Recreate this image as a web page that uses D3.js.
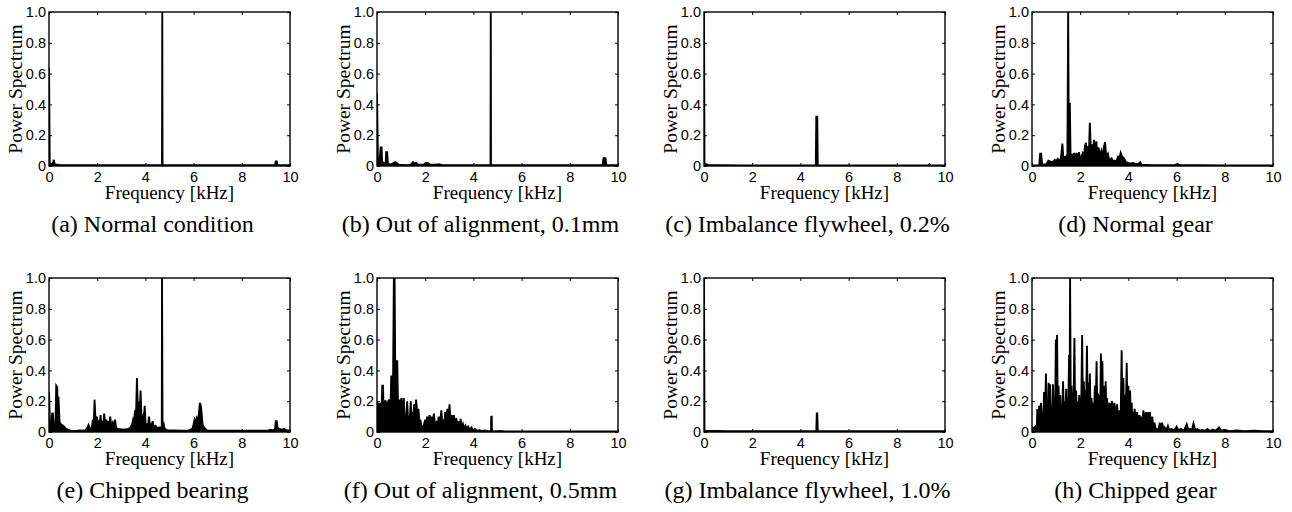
<!DOCTYPE html>
<html>
<head>
<meta charset="utf-8">
<script src="https://cdn.jsdelivr.net/npm/d3@7"></script>
<style>
  body { margin: 0; background: #fff; }
</style>
</head>
<body>
<div id="chart"></div>
<script>
// tick values shared by every panel
const freqTicks = [0, 2, 4, 6, 8, 10];
const powerTicks = [0, 0.2, 0.4, 0.6, 0.8, 1.0];

const captions = [
  '(a) Normal condition',
  '(b) Out of alignment, 0.1mm',
  '(c) Imbalance flywheel, 0.2%',
  '(d) Normal gear',
  '(e) Chipped bearing',
  '(f) Out of alignment, 0.5mm',
  '(g) Imbalance flywheel, 1.0%',
  '(h) Chipped gear'
];

// [kHz, normalised power]
const specA = [[0,0.64],[0.03,0.02],[0.1,0.01],[0.17,0.02],[0.2,0.04],[0.24,0.01],[0.5,0.006],[1,0.005],[2,0.005],[3,0.005],[4,0.005],
  [4.69,0.006],[4.7,1.0],[4.71,0.006],[6,0.005],[8,0.005],[9.38,0.006],[9.41,0.03],[9.45,0.03],[9.48,0.006],[10,0.005]];

const specB = [[0,0.47],[0.04,0.03],[0.08,0.02],[0.12,0.05],[0.15,0.12],[0.19,0.12],[0.21,0.03],[0.3,0.015],[0.36,0.02],[0.38,0.09],[0.42,0.09],
  [0.45,0.02],[0.55,0.008],[0.7,0.02],[0.76,0.025],[0.82,0.02],[0.9,0.008],[1.2,0.006],[1.4,0.008],[1.5,0.025],[1.55,0.015],[1.62,0.02],
  [1.7,0.008],[1.95,0.01],[2.02,0.02],[2.12,0.018],[2.2,0.008],[2.45,0.008],[2.55,0.012],[2.7,0.007],[3.0,0.006],[3.5,0.006],[4.2,0.006],
  [4.71,0.006],[4.72,1.0],[4.73,0.006],[5,0.005],[7,0.005],[9.36,0.005],[9.4,0.05],[9.48,0.05],[9.52,0.005],[10,0.005]];

const specC = [[0,1.0],[0.02,0.01],[0.1,0.012],[0.2,0.006],[0.5,0.006],[0.8,0.005],[1.5,0.004],[3,0.004],[4.64,0.004],[4.66,0.32],
  [4.7,0.32],[4.72,0.004],[6,0.004],[9.3,0.005],[9.35,0.012],[9.4,0.005],[10,0.004]];

const specD = [[0,0.004],[0.3,0.006],[0.34,0.08],[0.38,0.08],[0.42,0.01],[0.6,0.012],[0.68,0.035],[0.75,0.03],[0.85,0.025],[0.95,0.04],
  [1.0,0.03],[1.07,0.045],[1.12,0.03],[1.2,0.05],[1.26,0.145],[1.3,0.05],[1.37,0.06],[1.42,0.04],[1.47,0.08],[1.5,1.0],[1.53,0.08],
  [1.57,0.41],[1.6,0.05],[1.65,0.08],[1.7,0.04],[1.75,0.085],[1.8,0.04],[1.85,0.085],[1.9,0.05],[1.95,0.09],[2.0,0.04],[2.05,0.06],
  [2.1,0.08],[2.15,0.05],[2.2,0.13],[2.24,0.15],[2.28,0.08],[2.32,0.13],[2.36,0.07],[2.4,0.28],[2.44,0.1],[2.49,0.14],[2.53,0.07],
  [2.57,0.17],[2.61,0.08],[2.67,0.16],[2.71,0.07],[2.76,0.12],[2.82,0.06],[2.88,0.1],[2.94,0.07],[2.98,0.12],[3.03,0.155],[3.08,0.06],
  [3.15,0.08],[3.2,0.04],[3.3,0.05],[3.38,0.025],[3.43,0.035],[3.5,0.03],[3.57,0.06],[3.63,0.05],[3.68,0.085],[3.74,0.06],[3.82,0.05],
  [3.9,0.025],[3.99,0.02],[4.1,0.015],[4.2,0.02],[4.3,0.012],[4.42,0.015],[4.49,0.025],[4.55,0.008],[5,0.006],[5.5,0.006],[5.9,0.006],
  [6.04,0.012],[6.15,0.006],[6.6,0.005],[7,0.005],[8,0.004],[9,0.004],[10,0.004]];

const specE = [[0,0.26],[0.04,0.04],[0.1,0.03],[0.13,0.12],[0.16,0.12],[0.2,0.03],[0.27,0.05],[0.3,0.3],[0.34,0.29],[0.37,0.08],[0.39,0.23],
  [0.44,0.06],[0.5,0.05],[0.6,0.04],[0.7,0.02],[0.87,0.01],[1.0,0.006],[1.3,0.01],[1.5,0.008],[1.6,0.03],[1.64,0.045],[1.7,0.02],
  [1.78,0.03],[1.82,0.08],[1.86,0.05],[1.89,0.21],[1.93,0.07],[1.99,0.1],[2.03,0.04],[2.07,0.06],[2.1,0.04],[2.14,0.11],[2.17,0.05],
  [2.2,0.07],[2.25,0.04],[2.29,0.12],[2.33,0.05],[2.38,0.08],[2.41,0.04],[2.44,0.07],[2.49,0.04],[2.54,0.1],[2.58,0.04],[2.64,0.06],
  [2.68,0.03],[2.74,0.08],[2.78,0.03],[2.85,0.02],[3.1,0.015],[3.3,0.02],[3.38,0.03],[3.45,0.05],[3.49,0.08],[3.53,0.06],[3.57,0.14],
  [3.61,0.1],[3.65,0.35],[3.69,0.12],[3.74,0.2],[3.77,0.13],[3.8,0.27],[3.84,0.08],[3.89,0.1],[3.93,0.06],[3.97,0.17],[4.01,0.05],
  [4.07,0.05],[4.11,0.04],[4.15,0.1],[4.19,0.04],[4.24,0.05],[4.27,0.03],[4.3,0.07],[4.35,0.03],[4.42,0.04],[4.5,0.025],[4.6,0.03],
  [4.68,0.02],[4.69,1.0],[4.71,0.03],[4.76,0.05],[4.8,0.02],[4.9,0.012],[5.2,0.01],[5.5,0.008],[5.8,0.01],[5.95,0.02],[6.0,0.05],
  [6.04,0.08],[6.08,0.06],[6.13,0.09],[6.18,0.07],[6.22,0.12],[6.26,0.19],[6.3,0.17],[6.33,0.13],[6.37,0.05],[6.43,0.03],[6.55,0.01],
  [6.85,0.008],[7.5,0.008],[8.5,0.008],[9.1,0.01],[9.2,0.015],[9.3,0.01],[9.38,0.02],[9.41,0.07],[9.45,0.07],[9.48,0.03],[9.55,0.02],
  [9.65,0.015],[9.76,0.02],[9.85,0.01],[10,0.01]];

const specF = [[0,0.2],[0.03,0.06],[0.07,0.19],[0.1,0.05],[0.14,0.19],[0.17,0.05],[0.22,0.3],[0.25,0.3],[0.28,0.08],[0.33,0.2],[0.36,0.2],
  [0.39,0.1],[0.44,0.19],[0.5,0.21],[0.55,0.08],[0.59,0.36],[0.62,0.36],[0.66,0.2],[0.7,1.0],[0.73,1.0],[0.76,0.3],[0.8,0.46],[0.84,0.46],
  [0.88,0.1],[0.94,0.21],[0.97,0.12],[1.01,0.22],[1.05,0.1],[1.11,0.22],[1.15,0.09],[1.18,0.12],[1.22,0.07],[1.25,0.2],[1.29,0.08],
  [1.32,0.1],[1.36,0.07],[1.4,0.2],[1.43,0.08],[1.46,0.13],[1.5,0.07],[1.54,0.18],[1.58,0.1],[1.62,0.21],[1.67,0.12],[1.72,0.15],
  [1.76,0.06],[1.8,0.08],[1.85,0.03],[1.9,0.03],[1.95,0.05],[2.0,0.08],[2.04,0.05],[2.08,0.1],[2.13,0.06],[2.18,0.11],[2.23,0.06],
  [2.28,0.1],[2.32,0.06],[2.36,0.12],[2.41,0.04],[2.46,0.06],[2.51,0.03],[2.56,0.1],[2.61,0.05],[2.67,0.14],[2.71,0.05],[2.75,0.08],
  [2.79,0.04],[2.83,0.13],[2.88,0.06],[2.92,0.15],[2.96,0.08],[3.01,0.18],[3.05,0.06],[3.1,0.11],[3.14,0.05],[3.19,0.11],[3.24,0.04],
  [3.29,0.09],[3.34,0.03],[3.39,0.07],[3.43,0.03],[3.47,0.085],[3.52,0.02],[3.57,0.05],[3.62,0.02],[3.67,0.04],[3.72,0.015],[3.78,0.035],
  [3.85,0.015],[3.92,0.03],[3.99,0.012],[4.06,0.02],[4.15,0.008],[4.26,0.012],[4.35,0.006],[4.47,0.01],[4.6,0.005],[4.73,0.005],
  [4.74,0.1],[4.76,0.1],[4.77,0.005],[5,0.005],[5.17,0.006],[5.3,0.004],[6,0.004],[7,0.004],[8,0.004],[9,0.004],[10,0.004]];

const specG = [[0,1.0],[0.02,0.008],[1,0.006],[3,0.006],[4.66,0.006],[4.68,0.12],[4.7,0.12],[4.72,0.006],[6,0.006],[8,0.006],[10,0.006]];

const specH = [[0,0.02],[0.1,0.03],[0.17,0.04],[0.2,0.02],[0.22,0.15],[0.26,0.08],[0.3,0.17],[0.33,0.1],[0.37,0.19],[0.41,0.09],[0.44,0.12],
  [0.47,0.08],[0.5,0.26],[0.54,0.12],[0.58,0.38],[0.61,0.1],[0.64,0.2],[0.67,0.12],[0.69,0.32],[0.72,0.12],[0.75,0.31],[0.78,0.1],
  [0.82,0.17],[0.85,0.1],[0.87,0.31],[0.9,0.12],[0.93,0.22],[0.96,0.1],[0.99,0.6],[1.01,0.15],[1.04,0.63],[1.07,0.12],[1.1,0.3],
  [1.13,0.1],[1.17,0.24],[1.2,0.1],[1.22,0.17],[1.25,0.1],[1.29,0.33],[1.32,0.1],[1.35,0.2],[1.38,0.1],[1.42,0.28],[1.45,0.1],[1.47,0.19],
  [1.5,0.1],[1.54,0.5],[1.56,0.15],[1.58,1.0],[1.61,0.12],[1.64,0.3],[1.67,0.1],[1.69,0.26],[1.72,0.12],[1.76,0.61],[1.79,0.12],
  [1.83,0.27],[1.86,0.12],[1.9,0.2],[1.93,0.1],[1.96,0.24],[1.98,0.1],[2.01,0.22],[2.04,0.12],[2.08,0.63],[2.11,0.15],[2.15,0.33],
  [2.18,0.12],[2.21,0.27],[2.24,0.1],[2.28,0.56],[2.31,0.15],[2.35,0.32],[2.37,0.12],[2.4,0.38],[2.43,0.12],[2.47,0.22],[2.5,0.1],
  [2.54,0.19],[2.57,0.1],[2.61,0.3],[2.64,0.12],[2.68,0.46],[2.71,0.12],[2.74,0.25],[2.77,0.1],[2.81,0.24],[2.83,0.12],[2.86,0.51],
  [2.89,0.15],[2.92,0.46],[2.95,0.12],[2.99,0.3],[3.02,0.1],[3.06,0.33],[3.08,0.1],[3.11,0.22],[3.16,0.12],[3.22,0.19],[3.27,0.12],
  [3.32,0.2],[3.37,0.12],[3.42,0.19],[3.47,0.1],[3.53,0.18],[3.58,0.08],[3.64,0.14],[3.68,0.08],[3.72,0.53],[3.75,0.1],[3.79,0.35],
  [3.82,0.1],[3.86,0.24],[3.89,0.1],[3.93,0.45],[3.96,0.1],[4.0,0.3],[4.03,0.08],[4.07,0.27],[4.1,0.06],[4.14,0.19],[4.16,0.06],
  [4.19,0.13],[4.22,0.05],[4.26,0.15],[4.31,0.05],[4.36,0.13],[4.41,0.05],[4.46,0.11],[4.5,0.04],[4.54,0.1],[4.58,0.04],[4.62,0.14],
  [4.67,0.04],[4.72,0.13],[4.76,0.04],[4.8,0.13],[4.85,0.04],[4.89,0.13],[4.94,0.03],[4.99,0.1],[5.04,0.02],[5.08,0.06],[5.14,0.015],
  [5.19,0.02],[5.25,0.01],[5.3,0.06],[5.35,0.015],[5.4,0.06],[5.45,0.015],[5.5,0.03],[5.57,0.01],[5.64,0.04],[5.7,0.01],[5.78,0.02],
  [5.9,0.01],[6.0,0.035],[6.08,0.01],[6.17,0.02],[6.3,0.008],[6.42,0.05],[6.49,0.01],[6.56,0.02],[6.63,0.01],[6.7,0.055],[6.78,0.01],
  [6.86,0.02],[6.95,0.008],[7.07,0.015],[7.18,0.006],[7.28,0.02],[7.38,0.006],[7.49,0.015],[7.62,0.008],[7.76,0.03],[7.86,0.008],
  [7.97,0.015],[8.2,0.006],[8.5,0.01],[8.8,0.005],[9.2,0.008],[9.6,0.005],[10,0.005]];

const spectra = [specA, specB, specC, specD, specE, specF, specG, specH];

const width = 1292;
const height = 512;
const plotW = 241;
const plotH = 154;
const lefts = [49, 377, 704, 1032];
const tops = [12, 278];
const serif = '"Liberation Serif", "Times New Roman", serif';

const svg = d3.select('#chart').append('svg')
  .attr('width', width)
  .attr('height', height);

const x = d3.scaleLinear().domain([0, 10]).range([0, plotW]);
const y = d3.scaleLinear().domain([0, 1]).range([plotH, 0]);

const area = d3.area()
  .x((d) => x(d[0]))
  .y0(y(0))
  .y1((d) => y(d[1]));
const line = d3.line()
  .x((d) => x(d[0]))
  .y((d) => y(d[1]));

spectra.forEach((data, i) => {
  const col = i % 4;
  const row = Math.floor(i / 4);
  const g = svg.append('g')
    .attr('transform', 'translate(' + lefts[col] + ',' + tops[row] + ')');

  g.append('clipPath')
    .attr('id', 'clip' + i)
    .append('rect')
    .attr('width', plotW)
    .attr('height', plotH);

  // spectrum
  const plot = g.append('g').attr('clip-path', 'url(#clip' + i + ')');
  plot.append('path')
    .datum(data)
    .attr('d', area)
    .attr('fill', '#000');
  plot.append('path')
    .datum(data)
    .attr('d', line)
    .attr('fill', 'none')
    .attr('stroke', '#000')
    .attr('stroke-width', 1.9);

  // matlab style inward ticks on all four sides
  const fmt = (d) => d === 0 ? '0' : d3.format('.1f')(d);
  const bottom = g.append('g')
    .attr('transform', 'translate(0,' + plotH + ')')
    .call(d3.axisBottom(x).tickValues(freqTicks).tickSize(-3).tickPadding(6).tickFormat(d3.format('d')));
  const left = g.append('g')
    .call(d3.axisLeft(y).tickValues(powerTicks).tickSize(-3).tickPadding(3).tickFormat(fmt));
  g.append('g')
    .call(d3.axisTop(x).tickValues(freqTicks).tickSize(-3).tickFormat(''));
  g.append('g')
    .attr('transform', 'translate(' + plotW + ',0)')
    .call(d3.axisRight(y).tickValues(powerTicks).tickSize(-3).tickFormat(''));

  g.selectAll('.domain').remove();
  g.selectAll('.tick line').attr('stroke', '#000');
  [bottom, left].forEach((a) => a.attr('font-family', null).attr('font-size', null)
    .selectAll('text')
    .attr('fill', '#000')
    .style('font-family', '"Liberation Sans", Arial, sans-serif')
    .style('font-size', '14.5px'));

  g.append('rect')
    .attr('width', plotW)
    .attr('height', plotH)
    .attr('fill', 'none')
    .attr('stroke', '#000')
    .attr('stroke-width', 1.4);

  // labels
  g.append('text')
    .attr('x', plotW / 2)
    .attr('y', plotH + 33)
    .attr('text-anchor', 'middle')
    .style('font-family', serif)
    .style('font-size', '19px')
    .text('Frequency [kHz]');

  g.append('text')
    .attr('transform', 'translate(-27,' + (plotH / 2) + ') rotate(-90)')
    .attr('text-anchor', 'middle')
    .style('font-family', serif)
    .style('font-size', '19.5px')
    .text('Power Spectrum');

  g.append('text')
    .attr('x', plotW / 2 - 17)
    .attr('y', plotH + 66)
    .attr('text-anchor', 'middle')
    .style('font-family', serif)
    .style('font-size', '24px')
    .text(captions[i]);
});
</script>
</body>
</html>
